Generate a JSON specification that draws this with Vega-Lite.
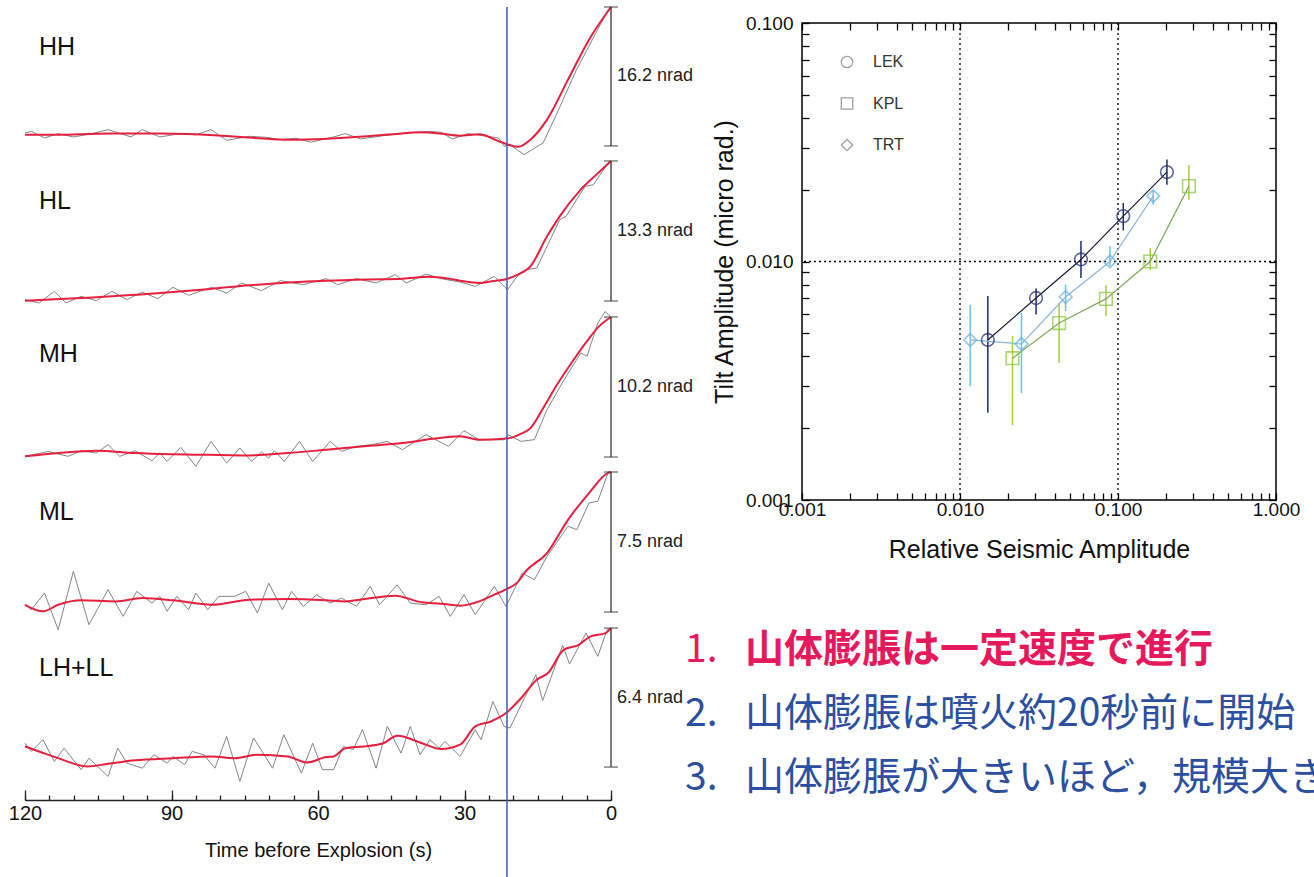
{
  "$schema": "https://vega.github.io/schema/vega-lite/v6.json",
  "background": "white",
  "padding": {"left": 8, "top": 3, "right": 0, "bottom": 0},
  "config": {
    "view": {"stroke": null},
    "font": "Liberation Sans",
    "axis": {"grid": false}
  },
  "datasets": {
    "hh_raw": [
      {"t":120,"v":1.5},{"t":118.7,"v":1.71},{"t":116,"v":0.93},{"t":113.2,"v":1.44},{"t":110.1,"v":1.05},{"t":106.5,"v":1.4},{"t":103,"v":1.9},{"t":98.3,"v":1.05},{"t":96,"v":1.9},{"t":92.4,"v":1.05},{"t":88.1,"v":1.44},{"t":85,"v":1.3},{"t":81.9,"v":1.9},{"t":78.7,"v":0.66},{"t":74,"v":1.13},{"t":70.5,"v":1.0},{"t":67.7,"v":0.74},{"t":64.5,"v":0.9},{"t":61.5,"v":0.43},{"t":56.8,"v":1.05},{"t":54.4,"v":1.44},{"t":51.3,"v":0.82},{"t":46.6,"v":1.2},{"t":42.7,"v":1.44},{"t":37.2,"v":1.71},{"t":34.8,"v":1.59},{"t":32.5,"v":0.82},{"t":29.3,"v":1.44},{"t":25.4,"v":1.13},{"t":23,"v":0.93},{"t":21.9,"v":-0.04},{"t":20.7,"v":0.16},{"t":17.8,"v":-1.01},{"t":13.9,"v":0.35},{"t":11.35,"v":3.46},{"t":7.05,"v":8.89},{"t":2.74,"v":13.55},{"t":0.58,"v":15.89},{"t":0,"v":16.2}
    ],
    "hh_fit": [
      {"t":120,"v":1.32},{"t":113,"v":1.3},{"t":105,"v":1.43},{"t":97,"v":1.45},{"t":90,"v":1.43},{"t":84,"v":1.35},{"t":78,"v":1.13},{"t":72,"v":0.9},{"t":66,"v":0.73},{"t":58,"v":0.85},{"t":50,"v":1.13},{"t":44,"v":1.4},{"t":39,"v":1.6},{"t":35,"v":1.45},{"t":31,"v":1.2},{"t":27,"v":1.36},{"t":23,"v":0.55},{"t":21,"v":0.15},{"t":19,"v":-0.1},{"t":16.5,"v":0.73},{"t":13.1,"v":3.07},{"t":8.8,"v":7.73},{"t":4.5,"v":12.39},{"t":0,"v":16.2}
    ],
    "hl_raw": [
      {"t":120,"v":0.13},{"t":117.1,"v":-0.19},{"t":114,"v":0.92},{"t":111.6,"v":-0.19},{"t":108.5,"v":0.44},{"t":105.4,"v":0.03},{"t":102.2,"v":0.92},{"t":99.1,"v":0.13},{"t":96,"v":0.85},{"t":92.8,"v":0.22},{"t":89.7,"v":1.3},{"t":86.5,"v":0.54},{"t":81.8,"v":1.3},{"t":78.7,"v":0.76},{"t":75.6,"v":1.71},{"t":71.6,"v":0.98},{"t":67.7,"v":1.93},{"t":63,"v":1.55},{"t":58.3,"v":2.12},{"t":56,"v":1.55},{"t":52.1,"v":2.12},{"t":48.1,"v":1.71},{"t":44.2,"v":2.5},{"t":41.9,"v":1.71},{"t":37.9,"v":2.56},{"t":34.8,"v":2.12},{"t":30.9,"v":1.8},{"t":27.8,"v":1.39},{"t":23.9,"v":2.34},{"t":21.2,"v":1.07},{"t":19.1,"v":2.4},{"t":17.4,"v":2.97},{"t":15.2,"v":3.13},{"t":13.1,"v":5.19},{"t":10.5,"v":7.72},{"t":9.2,"v":8.04},{"t":5.3,"v":10.89},{"t":3.6,"v":11.04},{"t":0.6,"v":13.1},{"t":0,"v":13.3}
    ],
    "hl_fit": [
      {"t":120,"v":0.03},{"t":113,"v":0.2},{"t":105.4,"v":0.35},{"t":97,"v":0.6},{"t":89.7,"v":0.85},{"t":82,"v":1.15},{"t":74,"v":1.49},{"t":66,"v":1.75},{"t":58.3,"v":1.93},{"t":50,"v":2.05},{"t":42.7,"v":2.12},{"t":37.2,"v":2.3},{"t":33,"v":2.1},{"t":30.9,"v":1.93},{"t":27,"v":1.71},{"t":24,"v":1.9},{"t":21.7,"v":2.05},{"t":19.1,"v":2.5},{"t":16.5,"v":3.29},{"t":13.1,"v":6.14},{"t":10.5,"v":8.04},{"t":6.2,"v":10.57},{"t":3,"v":12.0},{"t":0,"v":13.3}
    ],
    "mh_raw": [
      {"t":120,"v":0.05},{"t":115.2,"v":0.41},{"t":111.2,"v":0.05},{"t":108.5,"v":0.46},{"t":105.4,"v":0.29},{"t":103,"v":0.9},{"t":100.6,"v":0.05},{"t":97.5,"v":0.46},{"t":94,"v":-0.27},{"t":92.4,"v":0.29},{"t":90.9,"v":-0.32},{"t":88.1,"v":0.7},{"t":85,"v":-0.68},{"t":81.9,"v":1.14},{"t":78.7,"v":-0.44},{"t":76,"v":0.66},{"t":73.6,"v":-0.32},{"t":71.6,"v":0.36},{"t":70.1,"v":-0.07},{"t":68.9,"v":0.46},{"t":66.9,"v":-0.32},{"t":63.8,"v":1.14},{"t":61.1,"v":-0.32},{"t":57.5,"v":1.14},{"t":55.2,"v":0.41},{"t":52.1,"v":0.78},{"t":48.9,"v":0.9},{"t":45.8,"v":1.14},{"t":42.7,"v":0.53},{"t":37.9,"v":1.63},{"t":33.3,"v":0.78},{"t":30.1,"v":1.92},{"t":27,"v":1.26},{"t":21.9,"v":1.26},{"t":21.1,"v":1.63},{"t":18.4,"v":1.14},{"t":15.7,"v":1.27},{"t":13.1,"v":3.45},{"t":9.6,"v":5.63},{"t":6.2,"v":7.57},{"t":4.9,"v":7.35},{"t":2.7,"v":9.76},{"t":1.2,"v":10.6},{"t":0,"v":10.2}
    ],
    "mh_fit": [
      {"t":120,"v":0.05},{"t":113,"v":0.3},{"t":105.4,"v":0.46},{"t":97.5,"v":0.29},{"t":90,"v":0.2},{"t":85.8,"v":0.17},{"t":80,"v":0.15},{"t":74,"v":0.12},{"t":66.2,"v":0.29},{"t":58.3,"v":0.53},{"t":50.5,"v":0.78},{"t":42.7,"v":1.02},{"t":36.4,"v":1.33},{"t":30.9,"v":1.51},{"t":27,"v":1.26},{"t":21.9,"v":1.33},{"t":20,"v":1.45},{"t":18.4,"v":1.7},{"t":16.5,"v":2.1},{"t":14,"v":3.5},{"t":11,"v":5.3},{"t":8,"v":6.9},{"t":5,"v":8.4},{"t":2.5,"v":9.5},{"t":0,"v":10.2}
    ],
    "ml_raw": [
      {"t":120,"v":0.39},{"t":118.7,"v":0.13},{"t":116,"v":1.02},{"t":113.2,"v":-0.95},{"t":110.1,"v":2.18},{"t":106.9,"v":-0.68},{"t":103,"v":1.2},{"t":99.9,"v":-0.23},{"t":97.1,"v":1.11},{"t":94,"v":0.48},{"t":92.4,"v":0.84},{"t":90.9,"v":0.04},{"t":88.9,"v":0.84},{"t":86.5,"v":0.13},{"t":85,"v":1.02},{"t":82.6,"v":0.13},{"t":80.3,"v":0.84},{"t":77.1,"v":0.84},{"t":74.8,"v":1.11},{"t":72.4,"v":-0.05},{"t":70.1,"v":1.55},{"t":67.3,"v":0.13},{"t":65.4,"v":1.11},{"t":63,"v":0.3},{"t":60.3,"v":0.93},{"t":57.5,"v":0.48},{"t":55.2,"v":0.75},{"t":52.1,"v":0.3},{"t":49.3,"v":1.38},{"t":47.4,"v":0.39},{"t":43.8,"v":1.46},{"t":41.1,"v":0.48},{"t":37.9,"v":0.39},{"t":35.2,"v":0.84},{"t":32.9,"v":-0.23},{"t":30.1,"v":0.93},{"t":27.8,"v":-0.14},{"t":23.9,"v":1.38},{"t":21.5,"v":0.3},{"t":18.2,"v":2.09},{"t":15.7,"v":1.73},{"t":13.1,"v":2.98},{"t":8.8,"v":4.59},{"t":7.0,"v":4.41},{"t":4.5,"v":5.84},{"t":2.7,"v":5.93},{"t":0.6,"v":7.45},{"t":0,"v":7.5}
    ],
    "ml_fit": [
      {"t":120,"v":0.39},{"t":116.3,"v":0.04},{"t":113.2,"v":0.39},{"t":108.5,"v":0.63},{"t":101.4,"v":0.57},{"t":96,"v":0.75},{"t":89.7,"v":0.63},{"t":81.8,"v":0.39},{"t":74,"v":0.66},{"t":66.2,"v":0.7},{"t":58.3,"v":0.63},{"t":54.4,"v":0.57},{"t":50.5,"v":0.7},{"t":44.2,"v":0.88},{"t":38.7,"v":0.52},{"t":34.8,"v":0.45},{"t":30.9,"v":0.34},{"t":27,"v":0.57},{"t":23.9,"v":0.93},{"t":21.7,"v":1.19},{"t":19.1,"v":1.6},{"t":17.4,"v":2.2},{"t":13.1,"v":3.16},{"t":8.8,"v":4.94},{"t":4.5,"v":6.37},{"t":0.6,"v":7.45},{"t":0,"v":7.5}
    ],
    "lh_raw": [
      {"t":120,"v":1.1},{"t":118.7,"v":0.72},{"t":116.3,"v":1.26},{"t":114,"v":0.26},{"t":112,"v":0.87},{"t":108.5,"v":-0.12},{"t":106.9,"v":0.41},{"t":103,"v":-0.43},{"t":101,"v":0.87},{"t":99.1,"v":0.18},{"t":96,"v":-0.05},{"t":93.6,"v":0.57},{"t":90.9,"v":0.18},{"t":89.7,"v":0.49},{"t":87.3,"v":0.11},{"t":85.8,"v":0.72},{"t":83.4,"v":0.57},{"t":81.1,"v":-0.05},{"t":78.7,"v":1.41},{"t":76,"v":-0.66},{"t":73.2,"v":1.34},{"t":69.3,"v":-0.05},{"t":67,"v":1.49},{"t":63.4,"v":-0.28},{"t":61.1,"v":1.1},{"t":59.1,"v":-0.12},{"t":56.8,"v":-0.12},{"t":54.8,"v":0.95},{"t":52.8,"v":0.8},{"t":50.9,"v":1.72},{"t":48.1,"v":-0.05},{"t":45.8,"v":1.87},{"t":43,"v":0.64},{"t":41.1,"v":1.87},{"t":39.1,"v":0.57},{"t":37.1,"v":1.26},{"t":35.2,"v":0.87},{"t":34,"v":1.18},{"t":30.9,"v":0.49},{"t":27.8,"v":1.72},{"t":26.6,"v":1.26},{"t":24.2,"v":3.02},{"t":21.9,"v":1.87},{"t":20.7,"v":1.8},{"t":15.4,"v":4.25},{"t":14,"v":3.06},{"t":9.9,"v":5.6},{"t":8.5,"v":4.75},{"t":5.1,"v":6.17},{"t":2.7,"v":5.1},{"t":0.8,"v":6.32},{"t":0,"v":6.4}
    ],
    "lh_fit": [
      {"t":120,"v":0.95},{"t":116.3,"v":0.65},{"t":113.2,"v":0.41},{"t":107.3,"v":0.03},{"t":103,"v":0.15},{"t":97.5,"v":0.31},{"t":89.7,"v":0.41},{"t":81.8,"v":0.49},{"t":77.1,"v":0.41},{"t":72.4,"v":0.57},{"t":66.2,"v":0.49},{"t":62.3,"v":0.21},{"t":58.3,"v":0.46},{"t":56.8,"v":0.49},{"t":54.4,"v":0.87},{"t":50.6,"v":0.95},{"t":46.6,"v":1.1},{"t":43.8,"v":1.44},{"t":38.7,"v":1.1},{"t":34.8,"v":0.83},{"t":30.9,"v":1.03},{"t":27.8,"v":1.87},{"t":24.6,"v":2.1},{"t":21.5,"v":2.49},{"t":18.4,"v":3.18},{"t":15.2,"v":4.02},{"t":12.9,"v":4.33},{"t":9.7,"v":5.4},{"t":6.6,"v":5.63},{"t":4.2,"v":6.02},{"t":1.1,"v":6.17},{"t":0,"v":6.4}
    ],
    "tilt": [
      {"station":"LEK","amp":0.0150,"tilt":0.00469,"lo":0.00232,"hi":0.00716},
      {"station":"LEK","amp":0.0303,"tilt":0.00703,"lo":0.0060,"hi":0.0077},
      {"station":"LEK","amp":0.0583,"tilt":0.0102,"lo":0.00853,"hi":0.0122},
      {"station":"LEK","amp":0.108,"tilt":0.0155,"lo":0.0135,"hi":0.0176},
      {"station":"LEK","amp":0.204,"tilt":0.0237,"lo":0.0210,"hi":0.0268},
      {"station":"KPL","amp":0.0215,"tilt":0.00393,"lo":0.00206,"hi":0.00487},
      {"station":"KPL","amp":0.0424,"tilt":0.00552,"lo":0.00375,"hi":0.0067},
      {"station":"KPL","amp":0.0839,"tilt":0.00697,"lo":0.0059,"hi":0.00796},
      {"station":"KPL","amp":0.160,"tilt":0.0100,"lo":0.0092,"hi":0.0114},
      {"station":"KPL","amp":0.281,"tilt":0.0207,"lo":0.0181,"hi":0.0254},
      {"station":"TRT","amp":0.0116,"tilt":0.00469,"lo":0.0030,"hi":0.00659},
      {"station":"TRT","amp":0.0245,"tilt":0.00451,"lo":0.00281,"hi":0.00608},
      {"station":"TRT","amp":0.0466,"tilt":0.00710,"lo":0.0062,"hi":0.0080},
      {"station":"TRT","amp":0.0889,"tilt":0.0100,"lo":0.00957,"hi":0.0116},
      {"station":"TRT","amp":0.167,"tilt":0.0188,"lo":0.0173,"hi":0.0199}
    ],
    "notes": [
      {"n":1,"num":"1.","body":"山体膨脹は一定速度で進行","tone":"key"},
      {"n":2,"num":"2.","body":"山体膨脹は噴火約20秒前に開始","tone":"note"},
      {"n":3,"num":"3.","body":"山体膨脹が大きいほど，規模大きな噴火","tone":"note"}
    ]
  },
  "hconcat": [
    {
      "vconcat": [
        {
          "width": 586, "height": 155,
          "title": {"text": "HH", "anchor": "start", "frame": "group", "offset": -77, "dx": 14, "baseline": "alphabetic", "fontSize": 25, "fontWeight": "normal", "color": "#111"},
          "layer": [
            {"data": {"name": "hh_raw"}, "mark": {"type": "line", "color": "#858585", "strokeWidth": 1},
             "encoding": {"x": {"field": "t", "type": "quantitative", "scale": {"domain": [0, 120], "reverse": true}, "axis": null},
                          "y": {"field": "v", "type": "quantitative", "scale": {"domain": [-1.87, 16.2], "zero": false, "nice": false}, "axis": null}}},
            {"data": {"name": "hh_fit"}, "mark": {"type": "line", "color": "#e5203f", "strokeWidth": 2, "interpolate": "monotone"},
             "encoding": {"x": {"field": "t", "type": "quantitative", "axis": null}, "y": {"field": "v", "type": "quantitative", "axis": null}}},
            {"data": {"values": [{"onset": 21.3}]}, "mark": {"type": "rule", "color": "#3c5fb0", "strokeWidth": 1.5},
             "encoding": {"x": {"field": "onset", "type": "quantitative", "axis": null}}},
            {"data": {"values": [{"base": 0, "amp": 16.2}]},
             "transform": [{"calculate": "datum.amp / 2", "as": "mid"}, {"calculate": "format(datum.amp, '.1f') + ' nrad'", "as": "label"}],
             "layer": [
               {"mark": {"type": "rule", "color": "#333", "strokeWidth": 1.3}, "encoding": {"x": {"datum": 0, "type": "quantitative", "axis": null}, "y": {"field": "base", "type": "quantitative", "axis": null}, "y2": {"field": "amp"}}},
               {"mark": {"type": "tick", "orient": "horizontal", "color": "#333", "size": 14, "thickness": 1.3}, "encoding": {"x": {"datum": 0, "type": "quantitative", "axis": null}, "y": {"field": "base", "type": "quantitative", "axis": null}}},
               {"mark": {"type": "tick", "orient": "horizontal", "color": "#333", "size": 14, "thickness": 1.3}, "encoding": {"x": {"datum": 0, "type": "quantitative", "axis": null}, "y": {"field": "amp", "type": "quantitative", "axis": null}}},
               {"mark": {"type": "text", "align": "left", "baseline": "middle", "dx": 6, "fontSize": 18, "color": "#222"}, "encoding": {"x": {"datum": 0, "type": "quantitative", "axis": null}, "y": {"field": "mid", "type": "quantitative", "axis": null}, "text": {"field": "label"}}}
             ]}
          ]
        },
        {
          "width": 586, "height": 155,
          "title": {"text": "HL", "anchor": "start", "frame": "group", "offset": -77, "dx": 14, "baseline": "alphabetic", "fontSize": 25, "fontWeight": "normal", "color": "#111"},
          "layer": [
            {"data": {"name": "hl_raw"}, "mark": {"type": "line", "color": "#858585", "strokeWidth": 1},
             "encoding": {"x": {"field": "t", "type": "quantitative", "scale": {"domain": [0, 120], "reverse": true}, "axis": null},
                          "y": {"field": "v", "type": "quantitative", "scale": {"domain": [-1.52, 13.2], "zero": false, "nice": false}, "axis": null}}},
            {"data": {"name": "hl_fit"}, "mark": {"type": "line", "color": "#e5203f", "strokeWidth": 2, "interpolate": "monotone"},
             "encoding": {"x": {"field": "t", "type": "quantitative", "axis": null}, "y": {"field": "v", "type": "quantitative", "axis": null}}},
            {"data": {"values": [{"onset": 21.3}]}, "mark": {"type": "rule", "color": "#3c5fb0", "strokeWidth": 1.5},
             "encoding": {"x": {"field": "onset", "type": "quantitative", "axis": null}}},
            {"data": {"values": [{"base": 0, "amp": 13.3}]},
             "transform": [{"calculate": "datum.amp / 2", "as": "mid"}, {"calculate": "format(datum.amp, '.1f') + ' nrad'", "as": "label"}],
             "layer": [
               {"mark": {"type": "rule", "color": "#333", "strokeWidth": 1.3}, "encoding": {"x": {"datum": 0, "type": "quantitative", "axis": null}, "y": {"field": "base", "type": "quantitative", "axis": null}, "y2": {"field": "amp"}}},
               {"mark": {"type": "tick", "orient": "horizontal", "color": "#333", "size": 14, "thickness": 1.3}, "encoding": {"x": {"datum": 0, "type": "quantitative", "axis": null}, "y": {"field": "base", "type": "quantitative", "axis": null}}},
               {"mark": {"type": "tick", "orient": "horizontal", "color": "#333", "size": 14, "thickness": 1.3}, "encoding": {"x": {"datum": 0, "type": "quantitative", "axis": null}, "y": {"field": "amp", "type": "quantitative", "axis": null}}},
               {"mark": {"type": "text", "align": "left", "baseline": "middle", "dx": 6, "fontSize": 18, "color": "#222"}, "encoding": {"x": {"datum": 0, "type": "quantitative", "axis": null}, "y": {"field": "mid", "type": "quantitative", "axis": null}, "text": {"field": "label"}}}
             ]}
          ]
        },
        {
          "width": 586, "height": 155,
          "title": {"text": "MH", "anchor": "start", "frame": "group", "offset": -77, "dx": 14, "baseline": "alphabetic", "fontSize": 25, "fontWeight": "normal", "color": "#111"},
          "layer": [
            {"data": {"name": "mh_raw"}, "mark": {"type": "line", "color": "#858585", "strokeWidth": 1},
             "encoding": {"x": {"field": "t", "type": "quantitative", "scale": {"domain": [0, 120], "reverse": true}, "axis": null},
                          "y": {"field": "v", "type": "quantitative", "scale": {"domain": [-1.09, 10.2], "zero": false, "nice": false}, "axis": null}}},
            {"data": {"name": "mh_fit"}, "mark": {"type": "line", "color": "#e5203f", "strokeWidth": 2, "interpolate": "monotone"},
             "encoding": {"x": {"field": "t", "type": "quantitative", "axis": null}, "y": {"field": "v", "type": "quantitative", "axis": null}}},
            {"data": {"values": [{"onset": 21.3}]}, "mark": {"type": "rule", "color": "#3c5fb0", "strokeWidth": 1.5},
             "encoding": {"x": {"field": "onset", "type": "quantitative", "axis": null}}},
            {"data": {"values": [{"base": 0, "amp": 10.2}]},
             "transform": [{"calculate": "datum.amp / 2", "as": "mid"}, {"calculate": "format(datum.amp, '.1f') + ' nrad'", "as": "label"}],
             "layer": [
               {"mark": {"type": "rule", "color": "#333", "strokeWidth": 1.3}, "encoding": {"x": {"datum": 0, "type": "quantitative", "axis": null}, "y": {"field": "base", "type": "quantitative", "axis": null}, "y2": {"field": "amp"}}},
               {"mark": {"type": "tick", "orient": "horizontal", "color": "#333", "size": 14, "thickness": 1.3}, "encoding": {"x": {"datum": 0, "type": "quantitative", "axis": null}, "y": {"field": "base", "type": "quantitative", "axis": null}}},
               {"mark": {"type": "tick", "orient": "horizontal", "color": "#333", "size": 14, "thickness": 1.3}, "encoding": {"x": {"datum": 0, "type": "quantitative", "axis": null}, "y": {"field": "amp", "type": "quantitative", "axis": null}}},
               {"mark": {"type": "text", "align": "left", "baseline": "middle", "dx": 6, "fontSize": 18, "color": "#222"}, "encoding": {"x": {"datum": 0, "type": "quantitative", "axis": null}, "y": {"field": "mid", "type": "quantitative", "axis": null}, "text": {"field": "label"}}}
             ]}
          ]
        },
        {
          "width": 586, "height": 155,
          "title": {"text": "ML", "anchor": "start", "frame": "group", "offset": -77, "dx": 14, "baseline": "alphabetic", "fontSize": 25, "fontWeight": "normal", "color": "#111"},
          "layer": [
            {"data": {"name": "ml_raw"}, "mark": {"type": "line", "color": "#858585", "strokeWidth": 1},
             "encoding": {"x": {"field": "t", "type": "quantitative", "scale": {"domain": [0, 120], "reverse": true}, "axis": null},
                          "y": {"field": "v", "type": "quantitative", "scale": {"domain": [-0.8, 7.5], "zero": false, "nice": false}, "axis": null}}},
            {"data": {"name": "ml_fit"}, "mark": {"type": "line", "color": "#e5203f", "strokeWidth": 2, "interpolate": "monotone"},
             "encoding": {"x": {"field": "t", "type": "quantitative", "axis": null}, "y": {"field": "v", "type": "quantitative", "axis": null}}},
            {"data": {"values": [{"onset": 21.3}]}, "mark": {"type": "rule", "color": "#3c5fb0", "strokeWidth": 1.5},
             "encoding": {"x": {"field": "onset", "type": "quantitative", "axis": null}}},
            {"data": {"values": [{"base": 0, "amp": 7.5}]},
             "transform": [{"calculate": "datum.amp / 2", "as": "mid"}, {"calculate": "format(datum.amp, '.1f') + ' nrad'", "as": "label"}],
             "layer": [
               {"mark": {"type": "rule", "color": "#333", "strokeWidth": 1.3}, "encoding": {"x": {"datum": 0, "type": "quantitative", "axis": null}, "y": {"field": "base", "type": "quantitative", "axis": null}, "y2": {"field": "amp"}}},
               {"mark": {"type": "tick", "orient": "horizontal", "color": "#333", "size": 14, "thickness": 1.3}, "encoding": {"x": {"datum": 0, "type": "quantitative", "axis": null}, "y": {"field": "base", "type": "quantitative", "axis": null}}},
               {"mark": {"type": "tick", "orient": "horizontal", "color": "#333", "size": 14, "thickness": 1.3}, "encoding": {"x": {"datum": 0, "type": "quantitative", "axis": null}, "y": {"field": "amp", "type": "quantitative", "axis": null}}},
               {"mark": {"type": "text", "align": "left", "baseline": "middle", "dx": 6, "fontSize": 18, "color": "#222"}, "encoding": {"x": {"datum": 0, "type": "quantitative", "axis": null}, "y": {"field": "mid", "type": "quantitative", "axis": null}, "text": {"field": "label"}}}
             ]}
          ]
        },
        {
          "width": 586, "height": 253,
          "title": {"text": "LH+LL", "anchor": "start", "frame": "group", "offset": -77, "dx": 14, "baseline": "alphabetic", "fontSize": 25, "fontWeight": "normal", "color": "#111"},
          "resolve": {"axis": {"x": "independent"}},
          "layer": [
            {"data": {"name": "lh_raw"}, "mark": {"type": "line", "color": "#858585", "strokeWidth": 1},
             "encoding": {"x": {"field": "t", "type": "quantitative", "scale": {"domain": [0, 120], "reverse": true},
                                "axis": {"orient": "bottom", "offset": -80, "values": [0, 30, 60, 90, 120], "format": "d", "tickSize": -10, "tickWidth": 1.3, "tickColor": "#222", "domainColor": "#222", "domainWidth": 1.5, "labelFontSize": 20, "labelColor": "#111", "labelPadding": 13, "labelFlush": false, "labelOverlap": false, "title": "Time before Explosion (s)", "titleFontSize": 20, "titleFontWeight": "normal", "titleColor": "#111", "titlePadding": 17}},
                          "y": {"field": "v", "type": "quantitative", "scale": {"domain": [-5.2, 6.45], "zero": false, "nice": false}, "axis": null}}},
            {"data": {"name": "lh_fit"}, "mark": {"type": "line", "color": "#e5203f", "strokeWidth": 2, "interpolate": "monotone"},
             "encoding": {"x": {"field": "t", "type": "quantitative",
                                "axis": {"orient": "bottom", "offset": -80, "values": [0, 5, 10, 15, 20, 25, 30, 35, 40, 45, 50, 55, 60, 65, 70, 75, 80, 85, 90, 95, 100, 105, 110, 115, 120], "tickSize": -5, "tickWidth": 1.3, "tickColor": "#222", "domain": false, "labels": false, "title": null}},
                          "y": {"field": "v", "type": "quantitative", "axis": null}}},
            {"data": {"values": [{"onset": 21.3}]}, "mark": {"type": "rule", "color": "#3c5fb0", "strokeWidth": 1.5},
             "encoding": {"x": {"field": "onset", "type": "quantitative", "axis": null}}},
            {"data": {"values": [{"base": 0, "amp": 6.4}]},
             "transform": [{"calculate": "datum.amp / 2", "as": "mid"}, {"calculate": "format(datum.amp, '.1f') + ' nrad'", "as": "label"}],
             "layer": [
               {"mark": {"type": "rule", "color": "#333", "strokeWidth": 1.3}, "encoding": {"x": {"datum": 0, "type": "quantitative", "axis": null}, "y": {"field": "base", "type": "quantitative", "axis": null}, "y2": {"field": "amp"}}},
               {"mark": {"type": "tick", "orient": "horizontal", "color": "#333", "size": 14, "thickness": 1.3}, "encoding": {"x": {"datum": 0, "type": "quantitative", "axis": null}, "y": {"field": "base", "type": "quantitative", "axis": null}}},
               {"mark": {"type": "tick", "orient": "horizontal", "color": "#333", "size": 14, "thickness": 1.3}, "encoding": {"x": {"datum": 0, "type": "quantitative", "axis": null}, "y": {"field": "amp", "type": "quantitative", "axis": null}}},
               {"mark": {"type": "text", "align": "left", "baseline": "middle", "dx": 6, "fontSize": 18, "color": "#222"}, "encoding": {"x": {"datum": 0, "type": "quantitative", "axis": null}, "y": {"field": "mid", "type": "quantitative", "axis": null}, "text": {"field": "label"}}}
             ]}
          ]
        }
      ],
      "spacing": 0,
      "bounds": "flush"
    },
    {
      "vconcat": [
        {
          "hconcat": [
            {"width": 116, "height": 1, "data": {"values": [{"k": 0}]}, "mark": {"type": "point", "opacity": 0}, "encoding": {}},
            {
              "vconcat": [
                {"width": 474, "height": 1, "data": {"values": [{"k": 0}]}, "mark": {"type": "point", "opacity": 0}, "encoding": {}},
                {
                  "width": 474, "height": 477,
                  "view": {"stroke": "#000", "strokeWidth": 1.5},
                  "resolve": {"axis": {"x": "independent", "y": "independent"}, "scale": {"color": "independent"}},
                  "layer": [
                    {"data": {"values": [{"g": 0.01}, {"g": 0.1}]},
                     "mark": {"type": "rule", "color": "#000", "strokeWidth": 1.3, "strokeDash": [2, 3]},
                     "encoding": {"x": {"field": "g", "type": "quantitative", "scale": {"type": "log", "domain": [0.001, 1], "nice": false},
                                        "axis": {"orient": "bottom", "values": [0.001,0.002,0.003,0.004,0.005,0.006,0.007,0.008,0.009,0.01,0.02,0.03,0.04,0.05,0.06,0.07,0.08,0.09,0.1,0.2,0.3,0.4,0.5,0.6,0.7,0.8,0.9,1],
                                                 "format": ".3f", "labelExpr": "datum.value == 0.001 || datum.value == 0.01 || datum.value == 0.1 || datum.value == 1 ? datum.label : ''",
                                                 "tickSize": -7, "tickWidth": 1.3, "tickColor": "#000", "domain": false,
                                                 "labelFontSize": 19, "labelColor": "#111", "labelPadding": 7, "labelFlush": false, "labelOverlap": false,
                                                 "title": "Relative Seismic Amplitude", "titleFontSize": 25, "titleFontWeight": "normal", "titleColor": "#111", "titlePadding": 18}}}},
                    {"data": {"values": [{"g": 0.01}]},
                     "mark": {"type": "rule", "color": "#000", "strokeWidth": 1.3, "strokeDash": [2, 3]},
                     "encoding": {"y": {"field": "g", "type": "quantitative", "scale": {"type": "log", "domain": [0.001, 0.1], "nice": false},
                                        "axis": {"orient": "left", "values": [0.001,0.002,0.003,0.004,0.005,0.006,0.007,0.008,0.009,0.01,0.02,0.03,0.04,0.05,0.06,0.07,0.08,0.09,0.1],
                                                 "format": ".3f", "labelExpr": "datum.value == 0.001 || datum.value == 0.01 || datum.value == 0.1 ? datum.label : ''",
                                                 "tickSize": -7, "tickWidth": 1.3, "tickColor": "#000", "domain": false,
                                                 "labelFontSize": 19, "labelColor": "#111", "labelPadding": 16, "labelFlush": false, "labelOverlap": false,
                                                 "title": "Tilt Amplitude (micro rad.)", "titleFontSize": 25, "titleFontWeight": "normal", "titleColor": "#111", "titlePadding": 8}}}},
                    {"data": {"name": "tilt"},
                     "mark": {"type": "rule", "strokeWidth": 1.5},
                     "encoding": {"x": {"field": "amp", "type": "quantitative", "axis": null},
                                  "y": {"field": "lo", "type": "quantitative", "axis": null},
                                  "y2": {"field": "hi"},
                                  "color": {"field": "station", "type": "nominal", "scale": {"domain": ["LEK", "KPL", "TRT"], "range": ["#1d2b6e", "#a6cf3e", "#62c6e6"]}, "legend": null}}},
                    {"data": {"name": "tilt"},
                     "mark": {"type": "line", "strokeWidth": 1.2},
                     "encoding": {"x": {"field": "amp", "type": "quantitative", "axis": null},
                                  "y": {"field": "tilt", "type": "quantitative", "axis": null},
                                  "color": {"field": "station", "type": "nominal", "scale": {"domain": ["LEK", "KPL", "TRT"], "range": ["#1c1c38", "#7fa95a", "#8db5d8"]}, "legend": null}}},
                    {"data": {"name": "tilt"},
                     "mark": {"type": "point", "filled": false, "size": 160, "strokeWidth": 1.6},
                     "encoding": {"x": {"field": "amp", "type": "quantitative",
                                        "axis": {"orient": "top", "values": [0.001,0.002,0.003,0.004,0.005,0.006,0.007,0.008,0.009,0.01,0.02,0.03,0.04,0.05,0.06,0.07,0.08,0.09,0.1,0.2,0.3,0.4,0.5,0.6,0.7,0.8,0.9,1], "tickSize": -7, "tickWidth": 1.3, "tickColor": "#000", "domain": false, "labels": false, "title": null}},
                                  "y": {"field": "tilt", "type": "quantitative",
                                        "axis": {"orient": "right", "values": [0.001,0.002,0.003,0.004,0.005,0.006,0.007,0.008,0.009,0.01,0.02,0.03,0.04,0.05,0.06,0.07,0.08,0.09,0.1], "tickSize": -7, "tickWidth": 1.3, "tickColor": "#000", "domain": false, "labels": false, "title": null}},
                                  "color": {"field": "station", "type": "nominal", "scale": {"domain": ["LEK", "KPL", "TRT"], "range": ["#1d2b6e", "#8cc43c", "#6aaee0"]}, "legend": null},
                                  "shape": {"field": "station", "type": "nominal", "scale": {"domain": ["LEK", "KPL", "TRT"], "range": ["circle", "square", "diamond"]},
                                            "legend": {"orient": "none", "legendX": 814, "legendY": 47, "title": null, "padding": 0,
                                                       "labelFontSize": 16, "labelColor": "#333", "labelOffset": 18, "rowPadding": 23.5,
                                                       "symbolSize": 130, "symbolStrokeColor": "#777", "symbolFillColor": "transparent", "symbolStrokeWidth": 1.3}}}}
                  ]
                }
              ],
              "spacing": 15,
              "bounds": "flush"
            }
          ],
          "spacing": 1,
          "bounds": "flush"
        },
        {
          "width": 629, "height": 192,
          "data": {"name": "notes"},
          "encoding": {
            "y": {"field": "n", "type": "ordinal", "scale": {"type": "point", "padding": 0.5}, "axis": null},
            "x": {"value": 0},
            "color": {"field": "tone", "type": "nominal", "scale": {"domain": ["key", "note"], "range": ["#e6195d", "#2c4fa0"]}, "legend": null}
          },
          "layer": [
            {"mark": {"type": "text", "align": "left", "baseline": "middle", "font": "Noto Sans CJK JP", "fontSize": 39}, "encoding": {"text": {"field": "num"}}},
            {"transform": [{"filter": "datum.n == 1"}],
             "mark": {"type": "text", "align": "left", "baseline": "middle", "font": "Noto Sans CJK JP", "fontSize": 39, "fontWeight": "bold", "dx": 60, "clip": true}, "encoding": {"text": {"field": "body"}}},
            {"transform": [{"filter": "datum.n > 1"}],
             "mark": {"type": "text", "align": "left", "baseline": "middle", "font": "Noto Sans CJK JP", "fontSize": 39, "dx": 60, "clip": true}, "encoding": {"text": {"field": "body"}}}
          ]
        }
      ],
      "spacing": 611,
      "bounds": "flush"
    }
  ],
  "spacing": 660,
  "bounds": "flush"
}
